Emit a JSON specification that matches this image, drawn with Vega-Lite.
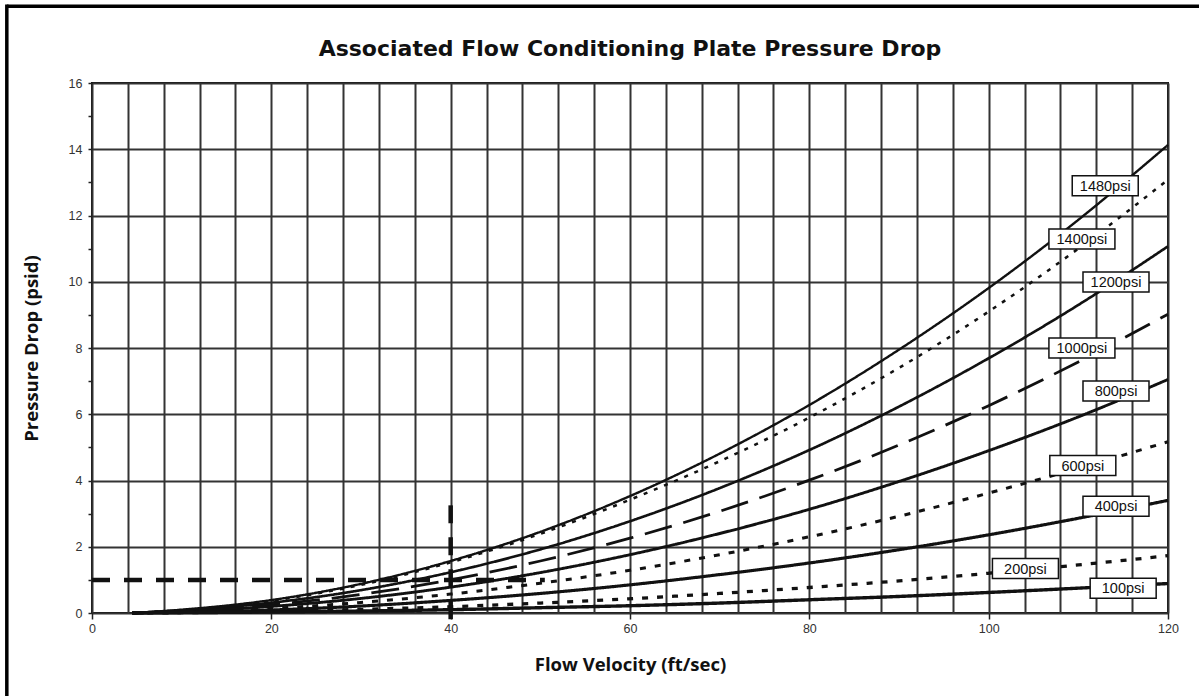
{
  "$schema": "https://vega.github.io/schema/vega-lite/v6.json",
  "width": 1076,
  "height": 530,
  "autosize": {"type": "none"},
  "padding": {"left": 92, "top": 83, "right": 31, "bottom": 83},
  "background": "white",
  "title": {
    "text": "Associated Flow Conditioning Plate Pressure Drop",
    "font": "DejaVu Sans",
    "fontSize": 22,
    "fontWeight": "bold",
    "color": "#111",
    "offset": -58.5
  },
  "config": {
    "view": {"stroke": "#111", "strokeWidth": 2},
    "axis": {
      "labelFont": "Liberation Sans",
      "labelFontSize": 12.5,
      "labelColor": "#333",
      "titleFont": "Open Sans",
      "titleFontSize": 18.5,
      "titleFontWeight": "bold",
      "titleColor": "#111",
      "gridColor": "#333",
      "gridWidth": 2,
      "gridOpacity": 1,
      "tickColor": "#222",
      "tickWidth": 1.5,
      "domain": false
    }
  },
  "datasets": {
    "curves": [
      {"c": "1480psi", "v": 4.5, "p": 0}, {"c": "1480psi", "v": 10, "p": 0.1}, {"c": "1480psi", "v": 20, "p": 0.39}, {"c": "1480psi", "v": 30, "p": 0.88}, {"c": "1480psi", "v": 40, "p": 1.57}, {"c": "1480psi", "v": 50, "p": 2.45}, {"c": "1480psi", "v": 60, "p": 3.53}, {"c": "1480psi", "v": 70, "p": 4.81}, {"c": "1480psi", "v": 80, "p": 6.28}, {"c": "1480psi", "v": 90, "p": 7.95}, {"c": "1480psi", "v": 100, "p": 9.81}, {"c": "1480psi", "v": 110, "p": 11.87}, {"c": "1480psi", "v": 120, "p": 14.13},
      {"c": "1400psi", "v": 4.5, "p": 0}, {"c": "1400psi", "v": 10, "p": 0.09}, {"c": "1400psi", "v": 20, "p": 0.37}, {"c": "1400psi", "v": 30, "p": 0.85}, {"c": "1400psi", "v": 40, "p": 1.53}, {"c": "1400psi", "v": 50, "p": 2.39}, {"c": "1400psi", "v": 60, "p": 3.42}, {"c": "1400psi", "v": 70, "p": 4.58}, {"c": "1400psi", "v": 80, "p": 5.9}, {"c": "1400psi", "v": 90, "p": 7.4}, {"c": "1400psi", "v": 100, "p": 9.1}, {"c": "1400psi", "v": 110, "p": 11.0}, {"c": "1400psi", "v": 120, "p": 13.08},
      {"c": "1200psi", "v": 4.5, "p": 0}, {"c": "1200psi", "v": 10, "p": 0.08}, {"c": "1200psi", "v": 20, "p": 0.31}, {"c": "1200psi", "v": 30, "p": 0.69}, {"c": "1200psi", "v": 40, "p": 1.23}, {"c": "1200psi", "v": 50, "p": 1.92}, {"c": "1200psi", "v": 60, "p": 2.77}, {"c": "1200psi", "v": 70, "p": 3.77}, {"c": "1200psi", "v": 80, "p": 4.92}, {"c": "1200psi", "v": 90, "p": 6.23}, {"c": "1200psi", "v": 100, "p": 7.69}, {"c": "1200psi", "v": 110, "p": 9.3}, {"c": "1200psi", "v": 120, "p": 11.07},
      {"c": "1000psi", "v": 4.5, "p": 0}, {"c": "1000psi", "v": 10, "p": 0.06}, {"c": "1000psi", "v": 20, "p": 0.25}, {"c": "1000psi", "v": 30, "p": 0.56}, {"c": "1000psi", "v": 40, "p": 1.0}, {"c": "1000psi", "v": 50, "p": 1.57}, {"c": "1000psi", "v": 60, "p": 2.26}, {"c": "1000psi", "v": 70, "p": 3.07}, {"c": "1000psi", "v": 80, "p": 4.01}, {"c": "1000psi", "v": 90, "p": 5.07}, {"c": "1000psi", "v": 100, "p": 6.26}, {"c": "1000psi", "v": 110, "p": 7.58}, {"c": "1000psi", "v": 120, "p": 9.02},
      {"c": "800psi", "v": 4.5, "p": 0}, {"c": "800psi", "v": 10, "p": 0.05}, {"c": "800psi", "v": 20, "p": 0.2}, {"c": "800psi", "v": 30, "p": 0.44}, {"c": "800psi", "v": 40, "p": 0.78}, {"c": "800psi", "v": 50, "p": 1.22}, {"c": "800psi", "v": 60, "p": 1.76}, {"c": "800psi", "v": 70, "p": 2.4}, {"c": "800psi", "v": 80, "p": 3.13}, {"c": "800psi", "v": 90, "p": 3.97}, {"c": "800psi", "v": 100, "p": 4.9}, {"c": "800psi", "v": 110, "p": 5.92}, {"c": "800psi", "v": 120, "p": 7.05},
      {"c": "600psi", "v": 4.5, "p": 0}, {"c": "600psi", "v": 10, "p": 0.04}, {"c": "600psi", "v": 20, "p": 0.14}, {"c": "600psi", "v": 30, "p": 0.32}, {"c": "600psi", "v": 40, "p": 0.57}, {"c": "600psi", "v": 50, "p": 0.9}, {"c": "600psi", "v": 60, "p": 1.29}, {"c": "600psi", "v": 70, "p": 1.76}, {"c": "600psi", "v": 80, "p": 2.3}, {"c": "600psi", "v": 90, "p": 2.92}, {"c": "600psi", "v": 100, "p": 3.62}, {"c": "600psi", "v": 110, "p": 4.37}, {"c": "600psi", "v": 120, "p": 5.17},
      {"c": "400psi", "v": 4.5, "p": 0}, {"c": "400psi", "v": 10, "p": 0.02}, {"c": "400psi", "v": 20, "p": 0.09}, {"c": "400psi", "v": 30, "p": 0.21}, {"c": "400psi", "v": 40, "p": 0.38}, {"c": "400psi", "v": 50, "p": 0.59}, {"c": "400psi", "v": 60, "p": 0.85}, {"c": "400psi", "v": 70, "p": 1.16}, {"c": "400psi", "v": 80, "p": 1.51}, {"c": "400psi", "v": 90, "p": 1.91}, {"c": "400psi", "v": 100, "p": 2.36}, {"c": "400psi", "v": 110, "p": 2.86}, {"c": "400psi", "v": 120, "p": 3.4},
      {"c": "200psi", "v": 4.5, "p": 0}, {"c": "200psi", "v": 10, "p": 0.01}, {"c": "200psi", "v": 20, "p": 0.05}, {"c": "200psi", "v": 30, "p": 0.11}, {"c": "200psi", "v": 40, "p": 0.19}, {"c": "200psi", "v": 50, "p": 0.3}, {"c": "200psi", "v": 60, "p": 0.43}, {"c": "200psi", "v": 70, "p": 0.59}, {"c": "200psi", "v": 80, "p": 0.77}, {"c": "200psi", "v": 90, "p": 0.97}, {"c": "200psi", "v": 100, "p": 1.2}, {"c": "200psi", "v": 110, "p": 1.45}, {"c": "200psi", "v": 120, "p": 1.73},
      {"c": "100psi", "v": 4.5, "p": 0}, {"c": "100psi", "v": 10, "p": 0.01}, {"c": "100psi", "v": 20, "p": 0.03}, {"c": "100psi", "v": 30, "p": 0.06}, {"c": "100psi", "v": 40, "p": 0.1}, {"c": "100psi", "v": 50, "p": 0.16}, {"c": "100psi", "v": 60, "p": 0.22}, {"c": "100psi", "v": 70, "p": 0.3}, {"c": "100psi", "v": 80, "p": 0.4}, {"c": "100psi", "v": 90, "p": 0.5}, {"c": "100psi", "v": 100, "p": 0.62}, {"c": "100psi", "v": 110, "p": 0.75}, {"c": "100psi", "v": 120, "p": 0.89}
    ],
    "labels": [
      {"label": "1480psi", "v": 113.0, "p": 12.9},
      {"label": "1400psi", "v": 110.4, "p": 11.29},
      {"label": "1200psi", "v": 114.2, "p": 9.99},
      {"label": "1000psi", "v": 110.4, "p": 8.0},
      {"label": "800psi", "v": 114.2, "p": 6.7},
      {"label": "600psi", "v": 110.5, "p": 4.45},
      {"label": "400psi", "v": 114.2, "p": 3.22},
      {"label": "200psi", "v": 104.1, "p": 1.34},
      {"label": "100psi", "v": 115.0, "p": 0.75}
    ],
    "refs": [
      {"v": 0, "v2": 50.5, "p": 1, "p2": 1},
      {"v": 40, "v2": 40, "p": 3.25, "p2": -0.25}
    ],
    "frame": [
      {"v": -9.5, "v2": 124, "p": 18.32, "p2": 18.32},
      {"v": -9.5, "v2": -9.5, "p": 18.37, "p2": -2.6}
    ]
  },
  "encoding": {
    "x": {
      "field": "v",
      "type": "quantitative",
      "scale": {"domain": [0, 120], "nice": false, "zero": false},
      "axis": {
        "title": "Flow Velocity (ft/sec)",
        "values": [0, 4, 8, 12, 16, 20, 24, 28, 32, 36, 40, 44, 48, 52, 56, 60, 64, 68, 72, 76, 80, 84, 88, 92, 96, 100, 104, 108, 112, 116, 120],
        "labelExpr": "datum.value % 20 === 0 ? datum.label : ''",
        "tickOpacity": {"condition": {"test": "datum.value % 20 === 0", "value": 1}, "value": 0},
        "tickSize": 6,
        "labelPadding": 3,
        "titlePadding": 21,
        "labelFlush": false
      }
    },
    "y": {
      "field": "p",
      "type": "quantitative",
      "scale": {"domain": [0, 16], "nice": false, "zero": false},
      "axis": {
        "title": "Pressure Drop (psid)",
        "values": [0, 1, 2, 3, 4, 5, 6, 7, 8, 9, 10, 11, 12, 13, 14, 15, 16],
        "labelExpr": "datum.value % 2 === 0 ? datum.label : ''",
        "gridOpacity": {"condition": {"test": "datum.value % 2 === 0", "value": 1}, "value": 0},
        "tickSize": 4,
        "labelPadding": 6,
        "titlePadding": 27,
        "labelFlush": false
      }
    }
  },
  "layer": [
    {
      "data": {"name": "frame"},
      "mark": {"type": "rule", "color": "#000", "strokeWidth": 3.5, "clip": false},
      "encoding": {
        "x2": {"field": "v2"},
        "y2": {"field": "p2"}
      }
    },
    {
      "data": {"name": "refs"},
      "mark": {"type": "rule", "color": "#111", "strokeWidth": 4.5, "strokeDash": [18, 14], "clip": false},
      "encoding": {
        "x2": {"field": "v2"},
        "y2": {"field": "p2"}
      }
    },
    {
      "data": {"name": "curves"},
      "mark": {"type": "line", "color": "#111", "interpolate": "monotone"},
      "encoding": {
        "detail": {"field": "c"},
        "strokeDash": {
          "field": "c",
          "type": "nominal",
          "legend": null,
          "scale": {
            "domain": ["1480psi", "1400psi", "1200psi", "1000psi", "800psi", "600psi", "400psi", "200psi", "100psi"],
            "range": [[1, 0], [4, 7], [1, 0], [28, 12], [1, 0], [6, 9], [1, 0], [6, 9], [1, 0]]
          }
        },
        "strokeWidth": {
          "field": "c",
          "type": "nominal",
          "legend": null,
          "scale": {
            "domain": ["1480psi", "1400psi", "1200psi", "1000psi", "800psi", "600psi", "400psi", "200psi", "100psi"],
            "range": [2.4, 3.4, 2.4, 3.8, 2.4, 3.2, 2.4, 3.2, 2.4]
          }
        }
      }
    },
    {
      "data": {"name": "labels"},
      "mark": {"type": "point", "shape": "M-3.3,-1H3.3V1H-3.3Z", "size": 400, "filled": true, "fill": "white", "stroke": "#111", "strokeWidth": 1.5, "opacity": 1}
    },
    {
      "data": {"name": "labels"},
      "mark": {"type": "text", "font": "Liberation Sans", "fontSize": 14.5, "color": "#111", "align": "center", "baseline": "middle", "dy": 1},
      "encoding": {"text": {"field": "label"}}
    }
  ]
}
